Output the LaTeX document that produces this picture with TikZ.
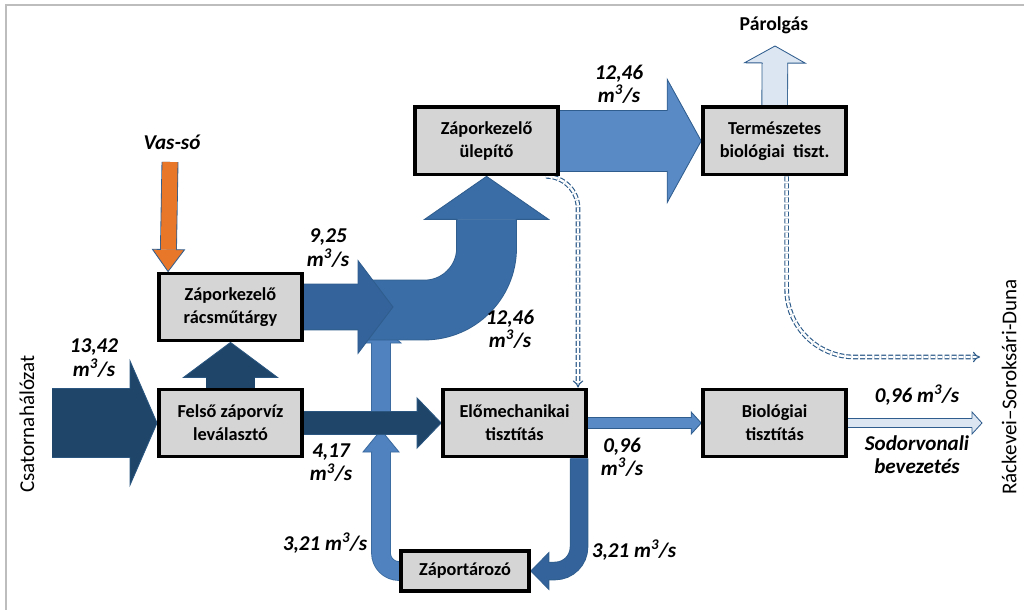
\documentclass[tikz,border=0pt]{standalone}
\usepackage{fontspec}
\setmainfont{Carlito}
\usepackage{tikz}
\usetikzlibrary{positioning,calc,backgrounds,arrows.meta}
\definecolor{navyfill}{HTML}{1F4569}
\definecolor{navyedge}{HTML}{2A5680}
\definecolor{midfill}{HTML}{3A6DA6}
\definecolor{midedge}{HTML}{2F5D8E}
\definecolor{darkmid}{HTML}{34639B}
\definecolor{lightfill}{HTML}{5A8AC6}
\definecolor{skyfill}{HTML}{4F82BE}
\definecolor{skyedge}{HTML}{3A6A9F}
\definecolor{paleflow}{HTML}{DCE6F2}
\definecolor{saltfill}{HTML}{E8772A}
\definecolor{boxfill}{HTML}{D5D5D5}
\definecolor{framegray}{HTML}{BDBDBD}
\definecolor{dashblue}{HTML}{2E5C8A}

% head of a block arrow: fill, edge, base, tip, shaft half width, head half width
\newcommand{\flowhead}[6]{%
  \fill[#1] ($(#3)!#6!90:(#4)$) -- (#4) -- ($(#3)!#6!-90:(#4)$) -- cycle;
  \draw[#2, line width=0.6pt, line join=miter]
    ($(#3)!#5!90:(#4)$) -- ($(#3)!#6!90:(#4)$) -- (#4)
    -- ($(#3)!#6!-90:(#4)$) -- ($(#3)!#5!-90:(#4)$);}
% straight block arrow: fill, edge, start, tip, shaft half, head half, head length
\newcommand{\flowarrow}[7]{%
  \coordinate (hb) at ($(#4)!#7!(#3)$);
  \draw[#2, double=#1, line width=0.6pt, double distance=2*#5] (#3) -- (hb);
  \flowhead{#1}{#2}{hb}{#4}{#5}{#6}}

\begin{document}
\begin{tikzpicture}[x=0.025cm, y=-0.025cm, node distance=2cm, on grid,
    plant/.style={draw=black, line width=2.6pt, fill=boxfill, minimum width=3.58cm,
      minimum height=1.68cm, align=center, font=\bfseries\fontsize{13}{16.4}\selectfont},
    qty/.style={align=center, font=\bfseries\itshape\fontsize{15}{16.5}\selectfont},
    spill/.style={dashblue, double=white, double distance=1.7pt, line width=0.8pt,
      dash pattern=on 3.5pt off 1.5pt, -{Implies[scale=1.5]}}]

  \useasboundingbox (0,0) rectangle (1024,610);

  \node[plant] (felso) at (230.5,423) {Felső záporvíz\\leválasztó};
  \node[plant] (racs) [above=2.9cm of felso] {Záporkezelő\\rácsműtárgy};
  \node[plant] (elomech) [right=7.1cm of felso] {Előmechanikai\\tisztítás};
  \node[plant] (biol) [right=6.5cm of elomech] {Biológiai\\tisztítás};
  \node[plant] (termesz) [above=7.05cm of biol] {Természetes\\biológiai\ \ tiszt.};
  \node[plant] (ulep) [left=7.2cm of termesz] {Záporkezelő\\ülepítő};
  \node[plant, minimum width=3.2cm, minimum height=1.0cm] (tarozo) at (465,571) {Záportározó};

  \coordinate (src) at (52,423);
  \coordinate (salt) at (170,162);
  \coordinate (evap) at (775,46);
  \coordinate (outlet) at (982,423);
  \coordinate (duna) at (980,357);
  \coordinate (bend) at (362,310);
  \coordinate (riseA) at (381,430);
  \coordinate (riseB) at (381,414);
  \coordinate (feed) at (381,326);
  \coordinate (merge) at (393,307);

  \node[qty] (vas) at (172,142) {Vas-só};
  \node[qty] (q925) at (328,248) {9,25\\m\textsuperscript{3}/s};
  \node[qty] (q1246t) at (619,84) {12,46\\m\textsuperscript{3}/s};
  \node[qty] (q1246r) at (510,329) {12,46\\m\textsuperscript{3}/s};
  \node[qty] (q1342) at (94,358) {13,42\\m\textsuperscript{3}/s};
  \node[qty] (q417) at (331,463) {4,17\\m\textsuperscript{3}/s};
  \node[qty] (q321l) at (325,543) {3,21 m\textsuperscript{3}/s};
  \node[qty] (q096m) at (622,457) {0,96\\m\textsuperscript{3}/s};
  \node[qty] (q321r) at (634,550) {3,21 m\textsuperscript{3}/s};
  \node[qty] (q096r) at (917,395) {0,96 m\textsuperscript{3}/s};
  \node[qty] (sodor) at (917,455) {Sodorvonali\\bevezetés};
  \node[font=\bfseries\fontsize{14}{16}\selectfont] (parolgas) at (774,25) {Párolgás};
  \node[rotate=90, font=\fontsize{15}{17}\selectfont] (csat) at (27,424) {Csatornahálózat};
  \node[rotate=90, font=\fontsize{15}{17}\selectfont] (dunalbl) at (1009,387) {Ráckevei–Soroksári-Duna};

  \begin{scope}[on background layer]
    \draw[framegray, line width=1.2pt] (1024,5) -- (6,5) -- (6,610);
    % riser into the bend
    \flowarrow{skyfill}{skyedge}{riseB}{feed}{0.225cm}{0.5cm}{0.425cm}
    % main stream up to the settler
    \coordinate (ub) at ($(ulep.south)+(0,43)$);
    \draw[midedge, double=midfill, line width=0.6pt, double distance=1.475cm,
      rounded corners=1.55cm] (bend) -| (ub);
    \flowhead{midfill}{midedge}{ub}{ulep.south}{0.725cm}{1.55cm}
    \flowarrow{darkmid}{midedge}{racs.east}{merge}{0.5625cm}{1.16cm}{0.875cm}
    % return from the storage tank
    \coordinate (ab) at ($(riseA)+(0,22)$);
    \draw[skyedge, double=skyfill, line width=0.6pt, double distance=0.45cm,
      rounded corners=0.45cm] (tarozo.west) -| (ab);
    \flowhead{skyfill}{skyedge}{ab}{riseA}{0.225cm}{0.45cm}
    \flowarrow{navyfill}{navyedge}{felso.east}{elomech.west}{0.275cm}{0.625cm}{0.6cm}
    \flowarrow{navyfill}{navyedge}{src}{felso.west}{0.85cm}{1.55cm}{0.675cm}
    \flowarrow{navyfill}{navyedge}{felso.north}{racs.south}{0.6cm}{1.175cm}{0.875cm}
    \flowarrow{lightfill}{midedge}{ulep.east}{termesz.west}{0.75cm}{1.54cm}{0.85cm}
    \flowarrow{paleflow}{midedge}{termesz.north}{evap}{0.31cm}{0.76cm}{0.425cm}
    \coordinate (dose) at ($(racs.north west)+(11,0)$);
    \flowarrow{saltfill}{midedge}{salt}{dose}{0.19cm}{0.4cm}{0.55cm}
    \flowarrow{lightfill}{midedge}{elomech.east}{biol.west}{0.125cm}{0.275cm}{0.25cm}
    \flowarrow{paleflow}{midedge}{biol.east}{outlet}{0.11cm}{0.275cm}{0.25cm}
    % down to the storage tank
    \coordinate (db) at ($(tarozo.east)+(18,0)$);
    \draw[midedge, double=darkmid, line width=0.6pt, double distance=0.42cm,
      rounded corners=0.6cm] ($(elomech.south east)+(-9,0)$) |- (db);
    \flowhead{darkmid}{midedge}{db}{tarozo.east}{0.21cm}{0.46cm}
    % overflow lines
    \draw[spill, rounded corners=0.8cm] ($(ulep.south east)+(-14,0)$) -| ($(elomech.north east)+(-10,0)$);
    \draw[spill, rounded corners=1.7cm] ($(termesz.south)+(12,0)$) |- (duna);
  \end{scope}
\end{tikzpicture}
\end{document}
